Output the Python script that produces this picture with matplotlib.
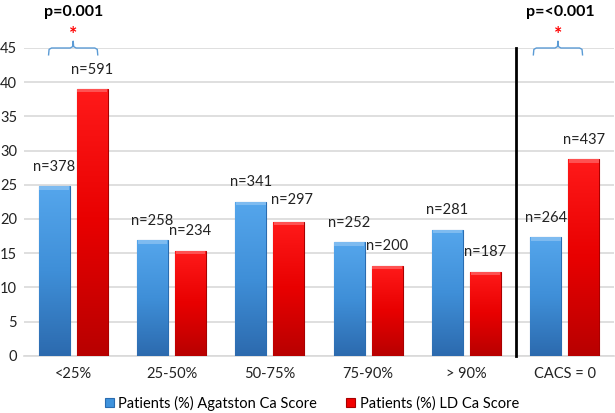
import matplotlib
matplotlib.use("Agg")
import matplotlib.pyplot as plt
import numpy as np
from matplotlib.colors import LinearSegmentedColormap

plt.rcParams['font.family'] = ['Lato', 'DejaVu Sans']

categories = ['<25%', '25-50%', '50-75%', '75-90%', '> 90%', 'CACS = 0']
agatston = [24.8, 16.9, 22.5, 16.6, 18.4, 17.3]
ld = [39.0, 15.35, 19.55, 13.15, 12.3, 28.7]
agatston_n = ['n=378', 'n=258', 'n=341', 'n=252', 'n=281', 'n=264']
ld_n = ['n=591', 'n=234', 'n=297', 'n=200', 'n=187', 'n=437']
series_names = ['Patients (%) Agatston Ca Score', 'Patients (%) LD Ca Score']
pvalues = ['p=0.001', 'p=<0.001']
yticks = [0, 5, 10, 15, 20, 25, 30, 35, 40, 45]

fig = plt.figure(figsize=(6.15, 4.13), dpi=100)
ax = fig.add_axes([24/615, 1-355.7/413, 590/615, (355.7-48)/413])

x = np.arange(len(categories))
w = 0.315
off = 0.193
blue = '#3F93DD'
red = '#F20000'
b1 = ax.bar(x - off, agatston, w, color=blue, edgecolor='#2A6CB0', linewidth=0.8,
            label=series_names[0], zorder=3)
b2 = ax.bar(x + off, ld, w, color=red, edgecolor='#A80000', linewidth=0.8,
            label=series_names[1], zorder=3)

ax.set_xlim(-0.5, 5.5)
ax.set_ylim(0, 45)

# gradient fill for bars (lighter top, darker bottom)
cmap_b = LinearSegmentedColormap.from_list('b', ['#2C6AAE', '#3F8FD8', '#55A6EC'])
cmap_r = LinearSegmentedColormap.from_list('r', ['#B80000', '#E80000', '#FF1A1A'])
grad = np.linspace(0, 1, 256).reshape(-1, 1)
for bars, cm in ((b1, cmap_b), (b2, cm_r) if False else (b2, cmap_r)):
    for rect in bars:
        x0 = rect.get_x(); h = rect.get_height(); wd = rect.get_width()
        im = ax.imshow(grad, extent=[x0, x0 + wd, 0, h], origin='lower', cmap=cm,
                       aspect='auto', zorder=3.5, interpolation='bilinear')
        im.set_clip_path(rect)
        # top bevel highlight
        ax.bar(x0 + wd / 2, 0.5, wd * 0.96, bottom=h - 0.5, color='white', alpha=0.25,
               linewidth=0, zorder=3.6)
ax.set_xlim(-0.5, 5.5)
ax.set_ylim(0, 45)

ax.set_yticks(yticks)
ax.set_xticks(x)
ax.set_xticklabels(categories, fontsize=10.5)
ax.tick_params(axis='both', length=0, labelsize=10.5, colors='#222222')
ax.tick_params(axis='x', pad=8)
ax.tick_params(axis='y', pad=5)
ax.grid(axis='y', color='#D9D9D9', linewidth=1.2, zorder=0)
for s in ['top', 'right', 'left']:
    ax.spines[s].set_visible(False)
ax.spines['bottom'].set_color('#D9D9D9')
ax.spines['bottom'].set_linewidth(1.2)

for i in range(len(categories)):
    ax.annotate(agatston_n[i], (x[i] - off, agatston[i]), xytext=(0, 9),
                textcoords='offset points', ha='center', va='bottom', fontsize=10.5, color='#222222')
    dy = 11 if i == 2 else 9
    dx = 2 if i == 2 else 0
    ax.annotate(ld_n[i], (x[i] + off, ld[i]), xytext=(dx, dy),
                textcoords='offset points', ha='center', va='bottom', fontsize=10.5, color='#222222')

# vertical separator
ax.plot([4.5, 4.5], [0, 45], color='black', linewidth=2, zorder=4, clip_on=False)

# braces and p-values
def brace(xc, half):
    x0, x1 = xc - half, xc + half
    ys, yb, yt = 45.0, 44.0, 46.0
    r = 0.03
    pts_x = [x0, x0 + 0.005, x0 + r, xc - r, xc - 0.005, xc, xc + 0.005, xc + r, x1 - r, x1 - 0.005, x1]
    pts_y = [yb, ys - 0.2, ys, ys, ys + 0.2, yt, ys + 0.2, ys, ys, ys - 0.2, yb]
    ax.plot(pts_x, pts_y, color='#5B9BD5', linewidth=1.0, clip_on=False, zorder=5)

brace(0.0, 0.25)
brace(4.93, 0.25)
ax.text(0.0, 47.0, '*', color='red', fontsize=14, fontweight='bold', ha='center', va='center')
ax.text(4.93, 47.0, '*', color='red', fontsize=14, fontweight='bold', ha='center', va='center')
ax.text(0.0, 50.2, pvalues[0], fontsize=11.5, fontweight='bold', ha='center', va='center')
ax.text(4.95, 50.2, pvalues[1], fontsize=11.5, fontweight='bold', ha='center', va='center')

fig.legend(handles=[b1, b2], loc='center', bbox_to_anchor=(312/615, 1-403/413), ncol=2,
           frameon=False, fontsize=10.5, handlelength=0.6, handleheight=0.6,
           handletextpad=0.3, columnspacing=2.0)

fig.savefig('out.png', dpi=100)
